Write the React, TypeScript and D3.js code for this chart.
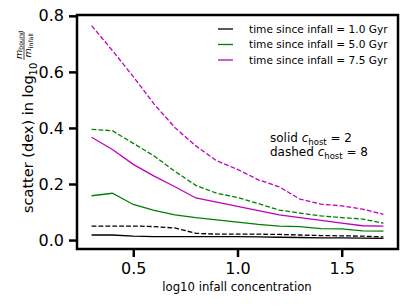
import React, { useEffect, useRef } from 'react'
import * as d3 from 'd3'

const [W, H] = [407, 305]
const margin = { left: 77, right: 9, top: 15, bottom: 56 }

// log10 infall concentration
const concentration = [0.3, 0.4, 0.5, 0.6, 0.7, 0.8, 0.9, 1.0, 1.1, 1.2, 1.3, 1.4, 1.5, 1.6, 1.7]

// c_host = 2 (solid)
const solid1 = [0.018, 0.018, 0.014, 0.012, 0.012, 0.012, 0.012, 0.012, 0.011, 0.010, 0.009, 0.008, 0.008, 0.007, 0.006]
const solid5 = [0.158, 0.167, 0.127, 0.106, 0.090, 0.080, 0.072, 0.064, 0.056, 0.050, 0.048, 0.041, 0.040, 0.033, 0.032]
const solid75 = [0.367, 0.323, 0.270, 0.228, 0.190, 0.150, 0.135, 0.120, 0.105, 0.090, 0.080, 0.070, 0.060, 0.051, 0.050]

// c_host = 8 (dashed)
const dashed1 = [0.050, 0.050, 0.050, 0.048, 0.043, 0.024, 0.021, 0.021, 0.021, 0.020, 0.018, 0.016, 0.015, 0.014, 0.011]
const dashed5 = [0.395, 0.390, 0.345, 0.300, 0.245, 0.195, 0.167, 0.152, 0.130, 0.107, 0.096, 0.086, 0.080, 0.075, 0.060]
const dashed75 = [0.765, 0.676, 0.583, 0.485, 0.401, 0.336, 0.283, 0.252, 0.215, 0.190, 0.146, 0.128, 0.122, 0.110, 0.092]

const legendLabels = ['time since infall = 1.0 Gyr', 'time since infall = 5.0 Gyr', 'time since infall = 7.5 Gyr']
const colors = ['#000000', '#008000', '#bf00bf']
const xTicks = [0.5, 1.0, 1.5]
const yTicks = [0.0, 0.2, 0.4, 0.6, 0.8]

const series = [
  { values: solid1, color: colors[0], dashed: false },
  { values: solid5, color: colors[1], dashed: false },
  { values: solid75, color: colors[2], dashed: false },
  { values: dashed1, color: colors[0], dashed: true },
  { values: dashed5, color: colors[1], dashed: true },
  { values: dashed75, color: colors[2], dashed: true },
]

const FONT = 'DejaVu Sans, sans-serif'

export default function App() {
  const ref = useRef<SVGSVGElement>(null)

  // matplotlib-style 5% padding on both axes
  const [x0, x1] = d3.extent(concentration) as [number, number]
  const allY = series.flatMap(s => s.values)
  const [y0, y1] = d3.extent(allY) as [number, number]
  const xPad = (x1 - x0) * 0.05
  const yPad = (y1 - y0) * 0.05

  const x = d3.scaleLinear()
    .domain([x0 - xPad, x1 + xPad])
    .range([margin.left, W - margin.right])
  const y = d3.scaleLinear()
    .domain([y0 - yPad, y1 + yPad])
    .range([H - margin.bottom, margin.top])

  const line = d3.line<number>()
    .x((_, i) => x(concentration[i]))
    .y(d => y(d))

  useEffect(() => {
    const svg = d3.select(ref.current)
    svg.selectAll('g.axis').remove()
    const xAxis = d3.axisBottom(x).tickValues(xTicks).tickSize(8).tickPadding(6).tickFormat(d3.format('.1f'))
    const yAxis = d3.axisLeft(y).tickValues(yTicks).tickSize(8).tickPadding(5).tickFormat(d3.format('.1f'))
    const gx = svg.append('g')
      .attr('class', 'axis')
      .attr('transform', `translate(0,${H - margin.bottom})`)
      .call(xAxis)
    const gy = svg.append('g')
      .attr('class', 'axis')
      .attr('transform', `translate(${margin.left},0)`)
      .call(yAxis)
    for (const g of [gx, gy]) {
      g.select('.domain').remove()
      g.selectAll('line').attr('stroke', '#000').attr('stroke-width', 2.5)
      g.selectAll('text').attr('fill', '#000').style('font-family', FONT).style('font-size', '16px')
    }
  }, [])

  const plotW = W - margin.left - margin.right
  const plotH = H - margin.top - margin.bottom

  return (
    <svg ref={ref} width={W} height={H} style={{ position: 'absolute', left: 0, top: 0 }} fontFamily={FONT}>
      <rect x={0} y={0} width={W} height={H} fill="#fff" />
      {series.map((s, i) => (
        <path key={i} d={line(s.values) ?? ''} fill="none" stroke={s.color}
          strokeWidth={1.3} strokeDasharray={s.dashed ? '4.8 2.1' : undefined} />
      ))}
      <rect x={margin.left} y={margin.top} width={plotW} height={plotH} fill="none" stroke="#000" strokeWidth={2.5} />

      {/* legend */}
      {legendLabels.map((label, i) => (
        <g key={label} transform={`translate(218,${29 + i * 15.5})`}>
          <line x1={0} x2={15} y1={0} y2={0} stroke={colors[i]} strokeWidth={1.3} />
          <text x={31} y={3.8} fontSize={10.6} fill="#000">{label}</text>
        </g>
      ))}

      {/* annotation */}
      <text x={270} y={142} fontSize={12} fill="#000">
        solid <tspan fontStyle="italic">c</tspan>
        <tspan fontSize={8.5} dy={2.5}>host</tspan>
        <tspan dy={-2.5}> = 2</tspan>
      </text>
      <text x={270} y={156} fontSize={12} fill="#000">
        dashed <tspan fontStyle="italic">c</tspan>
        <tspan fontSize={8.5} dy={2.5}>host</tspan>
        <tspan dy={-2.5}> = 8</tspan>
      </text>

      {/* x label */}
      <text x={237} y={291} fontSize={11.7} textAnchor="middle" fill="#000">log10 infall concentration</text>

      {/* y label, rotated */}
      <g transform="translate(33,213) rotate(-90)" fill="#000">
        <text x={0} y={0} fontSize={14.5}>
          scatter (dex) in log<tspan fontSize={10} dy={3.5}>10</tspan>
        </text>
        <text x={154} y={-11.5} fontSize={9.5}>
          <tspan fontStyle="italic">m</tspan><tspan fontSize={6.2} dy={1.5}>bound</tspan>
        </text>
        <line x1={153} x2={181} y1={-9} y2={-9} stroke="#000" strokeWidth={0.7} />
        <text x={155.5} y={-2} fontSize={9.5}>
          <tspan fontStyle="italic">m</tspan><tspan fontSize={6.2} dy={1.5}>infall</tspan>
        </text>
      </g>
    </svg>
  )
}
